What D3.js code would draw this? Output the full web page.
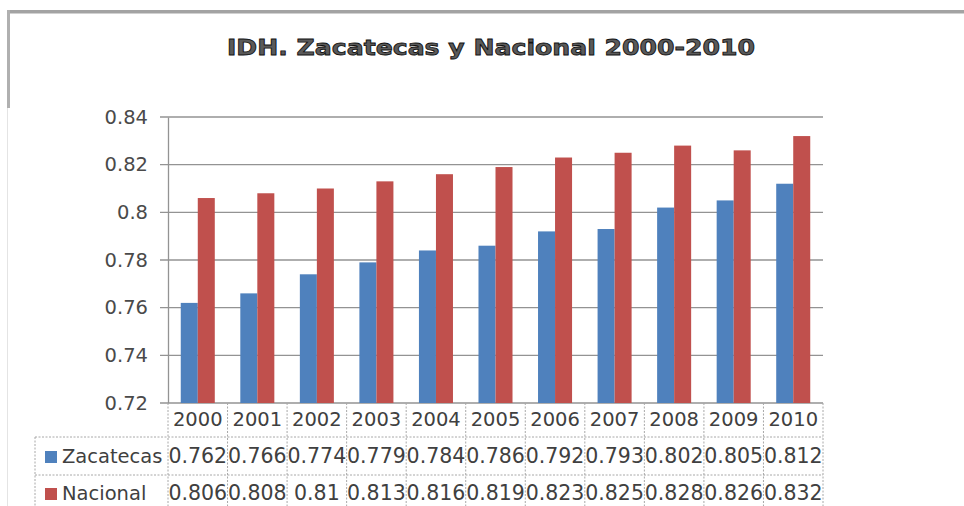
<!DOCTYPE html>
<html>
<head>
<meta charset="utf-8">
<script src="https://cdn.jsdelivr.net/npm/d3@7/dist/d3.min.js"></script>
<style>
  html, body { margin: 0; padding: 0; background: #fff; }
  svg { display: block; }
  text { font-family: "DejaVu Sans", sans-serif; }
</style>
</head>
<body>
<svg id="chart" width="964" height="506"></svg>
<script>
// IDH values, Zacatecas vs. national average
const years = ["2000","2001","2002","2003","2004","2005","2006","2007","2008","2009","2010"];
const seriesNames = ["Zacatecas", "Nacional"];
const zacatecas = [0.762, 0.766, 0.774, 0.779, 0.784, 0.786, 0.792, 0.793, 0.802, 0.805, 0.812];
const nacional  = [0.806, 0.808, 0.81, 0.813, 0.816, 0.819, 0.823, 0.825, 0.828, 0.826, 0.832];
const yTicks = [0.72, 0.74, 0.76, 0.78, 0.8, 0.82, 0.84];
const colors = ["#4f81bd", "#c0504d"];
const title = "IDH. Zacatecas y Nacional 2000-2010";

const svg = d3.select("#chart");
const plotLeft = 168, plotRight = 823, plotTop = 117, plotBottom = 403;

// frame
svg.append("rect").attr("x", 7).attr("y", 10).attr("width", 960).attr("height", 3.5).attr("fill", "#a3a3a3");
svg.append("rect").attr("x", 7).attr("y", 10).attr("width", 3).attr("height", 98).attr("fill", "#b0b0b0");
svg.append("line").attr("x1", 7.5).attr("x2", 7.5).attr("y1", 108).attr("y2", 506)
  .attr("stroke", "#e4e4e4").attr("stroke-width", 1);

// title
svg.append("text")
  .attr("x", 491).attr("y", 55)
  .attr("text-anchor", "middle")
  .attr("font-size", 21).attr("font-weight", "bold")
  .attr("textLength", 528).attr("lengthAdjust", "spacingAndGlyphs")
  .attr("fill", "#5a5a5a").attr("stroke", "#111").attr("stroke-width", 0.8)
  .text(title);

const x0 = d3.scaleBand().domain(years).range([plotLeft, plotRight]).padding(0);
const x1 = d3.scaleBand().domain(seriesNames).range([0, x0.bandwidth()]).paddingInner(0).paddingOuter(0.75);
const y = d3.scaleLinear().domain([0.72, 0.84]).range([plotBottom, plotTop]);

// gridlines
svg.append("g")
  .selectAll("line").data(yTicks).join("line")
  .attr("x1", plotLeft - 8).attr("x2", plotRight)
  .attr("y1", d => y(d)).attr("y2", d => y(d))
  .attr("stroke", "#939393").attr("stroke-width", 1.3);

// y axis
const yAxis = d3.axisLeft(y).tickValues(yTicks).tickSize(0).tickPadding(20)
  .tickFormat(d => String(+d.toFixed(2)));
const gy = svg.append("g").attr("transform", `translate(${plotLeft},0)`).call(yAxis);
gy.select(".domain").attr("stroke", "#939393").attr("stroke-width", 1.3);
gy.selectAll("text").attr("font-size", 19.5).attr("fill", "#4a4a4a")
  .attr("font-family", "DejaVu Sans, sans-serif");

// bars
const data = years.map((yr, i) => ({ year: yr, values: [zacatecas[i], nacional[i]] }));
svg.append("g").selectAll("g").data(data).join("g")
  .attr("transform", d => `translate(${x0(d.year)},0)`)
  .selectAll("rect").data(d => d.values.map((v, k) => ({ name: seriesNames[k], v, k })))
  .join("rect")
  .attr("x", d => x1(d.name))
  .attr("width", x1.bandwidth())
  .attr("y", d => y(d.v))
  .attr("height", d => y(0.72) - y(d.v))
  .attr("fill", d => colors[d.k]);

// data table under the chart
const tableLeft = 35, rowH = [403, 437, 475, 506];
const tbl = svg.append("g");
const dash = "2,1.5";
const tcol = "#a8a8a8";
// horizontal rules
[rowH[1], rowH[2]].forEach(yy => {
  tbl.append("line").attr("x1", tableLeft).attr("x2", plotRight).attr("y1", yy).attr("y2", yy)
    .attr("stroke", tcol).attr("stroke-dasharray", dash);
});
// vertical rules at column boundaries
const bounds = years.map(yr => x0(yr)).concat([plotRight]);
tbl.selectAll("line.v").data(bounds).join("line").attr("class", "v")
  .attr("x1", d => d).attr("x2", d => d).attr("y1", rowH[0]).attr("y2", rowH[3])
  .attr("stroke", tcol).attr("stroke-dasharray", dash);
tbl.append("line").attr("x1", tableLeft).attr("x2", tableLeft).attr("y1", rowH[1]).attr("y2", rowH[3])
  .attr("stroke", tcol).attr("stroke-dasharray", dash);

// header with years
tbl.selectAll("text.yr").data(years).join("text").attr("class", "yr")
  .attr("x", d => x0(d) + x0.bandwidth() / 2).attr("y", 426)
  .attr("text-anchor", "middle").attr("font-size", 19.5).attr("fill", "#404040")
  .text(d => d);

// series rows
const rows = [zacatecas, nacional];
rows.forEach((vals, k) => {
  const baseline = k === 0 ? 463 : 500;
  tbl.append("rect").attr("x", 45).attr("y", baseline - 12).attr("width", 12).attr("height", 12)
    .attr("fill", colors[k]);
  tbl.append("text").attr("x", 62).attr("y", baseline)
    .attr("font-size", 19.5).attr("fill", "#404040").text(seriesNames[k]);
  tbl.selectAll("text.v" + k).data(vals).join("text").attr("class", "v" + k)
    .attr("x", (d, i) => x0(years[i]) + x0.bandwidth() / 2).attr("y", baseline)
    .attr("text-anchor", "middle").attr("font-size", 20.5).attr("fill", "#404040")
    .text(d => String(d));
});
</script>
</body>
</html>
